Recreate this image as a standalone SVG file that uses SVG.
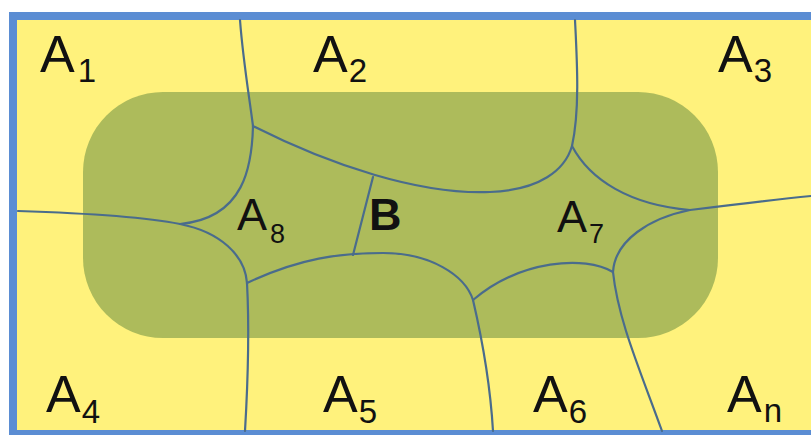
<svg xmlns="http://www.w3.org/2000/svg" width="811" height="435" viewBox="0 0 811 435">
<style>
.frame{fill:#FFF27C;stroke:#5B8DD3;stroke-width:8}
.zone{fill:#ADBB5B}
.edge{fill:none;stroke:#4A6C8C;stroke-width:2.2;stroke-linecap:round;stroke-linejoin:round}
.lbl{font-family:"Liberation Sans",Arial,sans-serif;fill:#111;font-size:52px}
.sm{font-family:"Liberation Sans",Arial,sans-serif;fill:#111;font-size:45px}
.b{font-weight:bold}
</style>
<rect width="811" height="435" fill="#ffffff"/>
<rect class="frame" x="13" y="16" width="805" height="418"/>
<rect class="zone" x="83" y="92" width="635" height="246" rx="80" ry="80"/>
<g id="connectors">
<path class="edge" d="M240,20 C243,60 249,95 253,126"/>
<path class="edge" d="M253,126 C252,165 245,218 180,224"/>
<path class="edge" d="M18,211 C80,213 140,216 180,224"/>
<path class="edge" d="M180,224 C220,232 245,255 247,283"/>
<path class="edge" d="M247,283 C249,320 248,380 245,431"/>
<path class="edge" d="M247,283 C300,258 340,253 383,253 C430,253 465,275 473,300"/>
<path class="edge" d="M473,300 C480,330 490,380 493,431"/>
<path class="edge" d="M253,126 C330,165 420,195 490,192 C540,190 565,170 572,146"/>
<path class="edge" d="M575,20 C577,60 580,110 572,146"/>
<path class="edge" d="M572,146 C590,180 630,205 690,210"/>
<path class="edge" d="M690,210 C730,205 770,200 811,196"/>
<path class="edge" d="M690,210 C650,218 615,240 613,272"/>
<path class="edge" d="M613,272 C618,320 640,370 662,431"/>
<path class="edge" d="M613,272 C585,255 520,260 473,300"/>
<path class="edge" d="M373,177 L353,255"/>
</g>
<g id="A1"><text class="lbl" x="40" y="72">A<tspan font-size="33" dx="3" dy="10">1</tspan></text></g>
<g id="A2"><text class="lbl" x="313" y="72">A<tspan font-size="33" dx="1" dy="10">2</tspan></text></g>
<g id="A3"><text class="lbl" x="718" y="72">A<tspan font-size="33" dx="1" dy="10">3</tspan></text></g>
<g id="A4"><text class="lbl" x="46" y="412">A<tspan font-size="33" dx="1" dy="11">4</tspan></text></g>
<g id="A5"><text class="lbl" x="323" y="412">A<tspan font-size="33" dx="1" dy="11">5</tspan></text></g>
<g id="A6"><text class="lbl" x="533" y="412">A<tspan font-size="33" dx="1" dy="11">6</tspan></text></g>
<g id="An"><text class="lbl" x="727" y="412">A<tspan font-size="33" dx="2" dy="10">n</tspan></text></g>
<g id="A8"><text class="sm" x="237" y="230">A<tspan font-size="27" dx="3" dy="13">8</tspan></text></g>
<g id="B"><text class="sm b" x="369" y="230">B</text></g>
<g id="A7"><text class="sm" x="557" y="232">A<tspan font-size="27" dx="2" dy="11">7</tspan></text></g>
</svg>
